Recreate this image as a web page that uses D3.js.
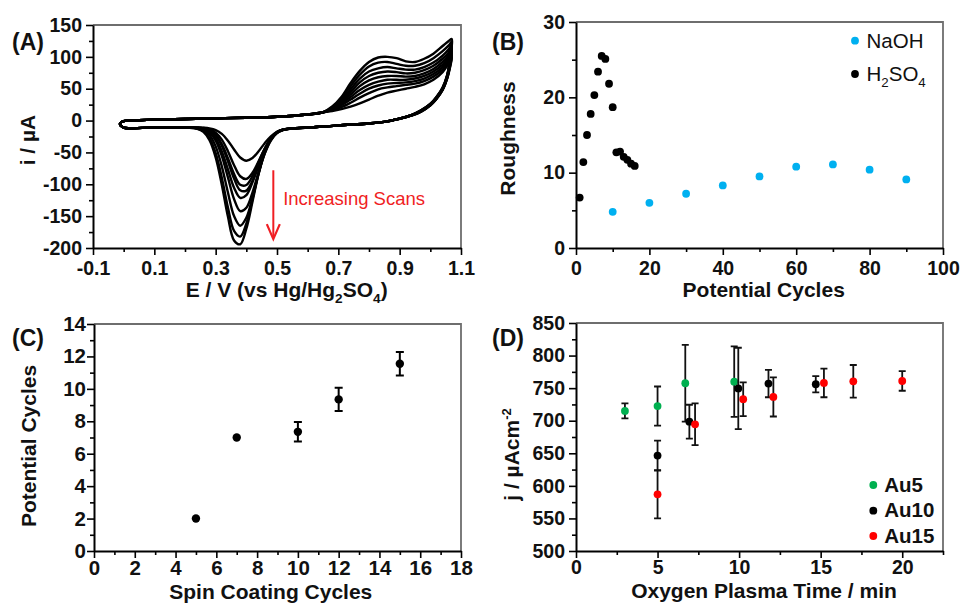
<!DOCTYPE html>
<html>
<head>
<meta charset="utf-8">
<script src="https://cdn.jsdelivr.net/npm/d3@7/dist/d3.min.js"></script>
<style>
  html, body { margin: 0; padding: 0; background: #fff; }
  svg { display: block; }
  text { font-family: "Liberation Sans", Arial, Helvetica, sans-serif; }
</style>
</head>
<body>
<svg id="fig" width="963" height="607" viewBox="0 0 963 607"></svg>
<script>
// ---------- (A) cyclic voltammograms, nine successive scans ----------
// shared low-potential part of the anodic sweep (E / V, i / µA)
const cvBaseE = [-0.012, 0.0, 0.05, 0.1, 0.2, 0.3, 0.4, 0.5, 0.6, 0.65];
const cvBaseI = [-5, -1, 0.5, 1.5, 2.5, 3.5, 4.5, 6, 9.5, 13];
// oxide-formation region of the anodic sweep, one row per scan
const cvAnodicE = [0.68, 0.71, 0.74, 0.77, 0.80, 0.83, 0.86, 0.89, 0.92, 0.95, 0.98, 1.01, 1.04, 1.06, 1.07];
const cvAnodicScans = [
  [15, 18, 22, 27, 33, 39, 44, 47, 50, 53, 57, 64, 76, 90, 98],
  [16, 21, 28, 36, 43, 49, 52, 54, 56, 58, 62, 69, 80, 93, 101],
  [17, 24, 33, 42, 50, 55, 58, 59, 60, 62, 66, 73, 84, 96, 104],
  [18, 26, 37, 48, 56, 61, 64, 64, 64, 66, 70, 77, 88, 99, 107],
  [19, 28, 41, 54, 63, 68, 70, 70, 69, 70, 74, 81, 92, 103, 111],
  [20, 30, 45, 60, 70, 75, 77, 76, 74, 75, 79, 86, 97, 107, 115],
  [20, 32, 49, 66, 77, 82, 84, 82, 80, 80, 84, 91, 102, 112, 119],
  [21, 35, 54, 72, 85, 91, 92, 89, 86, 86, 90, 98, 109, 118, 124],
  [22, 37, 59, 78, 92, 99, 100, 98, 93, 92, 97, 105, 117, 125, 128]
];
// cathodic sweep back to 0 V, one row per scan
const cvCathodicE = [1.065, 1.055, 1.04, 1.02, 1.0, 0.97, 0.94, 0.9, 0.85, 0.8, 0.7, 0.62,
  0.56, 0.52, 0.50, 0.48, 0.46, 0.44, 0.42, 0.40, 0.38, 0.36, 0.34, 0.32, 0.30, 0.28, 0.26, 0.24, 0.21, 0.17,
  0.12, 0.06, 0.02, 0.0];
const cvCathodicScans = [
  [85, 66, 48, 34, 24, 14, 8, 3, -2, -4.5, -7.5, -10.5, -12, -14.2, -17.5, -24.7, -35.5, -48.2, -58.8, -63, -57.9, -45.4, -31.5, -20.9, -14.9, -12.3, -11.3, -11, -11, -11, -11, -11.5, -12, -11],
  [87, 67, 48, 34, 24, 14, 8, 3, -2, -4.5, -7.5, -10.5, -12, -14.8, -19.3, -29, -44.5, -64, -82, -91.6, -87.4, -70, -48.1, -29.9, -18.9, -13.7, -11.7, -11.1, -11, -11, -11, -11.5, -12, -11],
  [89, 67, 49, 35, 24, 15, 8, 3, -2, -4.5, -7.5, -10.5, -12, -14.4, -18.6, -28.1, -44, -65.5, -87.2, -101.1, -100.7, -83.9, -59.2, -37, -22.4, -15, -12.2, -11.3, -11, -11, -11, -11.5, -12, -11],
  [91, 68, 49, 35, 25, 15, 8, 3, -2, -4.5, -7.5, -10.5, -12, -14.7, -19.3, -29.8, -47.3, -70.8, -94.6, -109.9, -109.4, -91, -64, -39.5, -23.5, -15.4, -12.3, -11.3, -11, -11, -11, -11.5, -12, -11],
  [93, 69, 50, 35, 25, 15, 9, 3, -2, -4.5, -7.5, -10.5, -12, -14.2, -18.3, -28, -45.3, -69.9, -96.8, -116.9, -121.3, -105.5, -76.8, -48.3, -28.2, -17.4, -13, -11.5, -11, -11, -11, -11.5, -12, -11],
  [95, 70, 50, 36, 25, 15, 9, 3, -2, -4.5, -7.5, -10.5, -12, -14.7, -19.6, -31.3, -51.8, -81, -113, -136.9, -142.2, -123.3, -89.2, -55.3, -31.4, -18.7, -13.3, -11.6, -11, -11, -11, -11.5, -12, -11],
  [97, 70, 51, 36, 26, 16, 9, 3, -2, -4.5, -7.5, -10.5, -12, -14.3, -18.9, -30.4, -51.6, -83.5, -121, -152.6, -165, -149.9, -112.9, -71.8, -40.5, -22.6, -14.7, -12, -11, -11, -11, -11.5, -12, -11],
  [99, 71, 51, 37, 26, 16, 9, 3, -2, -4.5, -7.5, -10.5, -12, -13.9, -18, -28.6, -49.2, -82.1, -123.5, -161.8, -182.1, -173.3, -136.4, -89.7, -51.2, -27.7, -16.6, -12.5, -11, -11, -11, -11.5, -12, -11],
  [100, 72, 52, 37, 26, 16, 9, 3, -2, -4.5, -7.5, -10.5, -12, -13.8, -17.8, -28.4, -49.3, -83.4, -127.4, -169.7, -194.1, -188.1, -150.6, -100.6, -57.7, -30.8, -17.8, -12.9, -11.2, -11, -11, -11.5, -12, -11]
];
const cvTicksE = [-0.1, 0.1, 0.3, 0.5, 0.7, 0.9, 1.1];
const cvMinorE = [0.0, 0.2, 0.4, 0.6, 0.8, 1.0];
const cvTicksI = [-200, -150, -100, -50, 0, 50, 100, 150];
const cvMinorI = [-175, -125, -75, -25, 25, 75, 125];
// "Increasing Scans" arrow: potential and current span
const arrowE = 0.488;
const arrowI = [-78, -186];

// ---------- (B) roughness vs potential cycles ----------
const naohCycles = [10, 20, 30, 40, 50, 60, 70, 80, 90];
const naohRoughness = [4.8, 6.0, 7.2, 8.3, 9.5, 10.8, 11.1, 10.4, 9.1];
const h2so4Cycles = [1, 2, 3, 4, 5, 6, 7, 8, 9, 10, 11, 12, 13, 14, 15, 16];
const h2so4Roughness = [6.7, 11.4, 15.0, 17.8, 20.3, 23.4, 25.5, 25.1, 21.8, 18.7, 12.7, 12.8, 12.1, 11.7, 11.2, 10.9];
const roughTicksX = [0, 20, 40, 60, 80, 100];
const roughMinorX = [10, 30, 50, 70, 90];
const roughTicksY = [0, 10, 20, 30];
const roughMinorY = [5, 15, 25];

// ---------- (C) potential cycles vs spin coating cycles ----------
const spinCycles = [5, 7, 10, 12, 15];
const spinPotCycles = [2.0, 7.0, 7.35, 9.35, 11.55];
const spinPotErr = [0, 0, 0.6, 0.72, 0.72];
const spinTicksX = [0, 2, 4, 6, 8, 10, 12, 14, 16, 18];
const spinMinorX = [1, 3, 5, 7, 9, 11, 13, 15, 17];
const spinTicksY = [0, 2, 4, 6, 8, 10, 12, 14];
const spinMinorY = [1, 3, 5, 7, 9, 11, 13];

// ---------- (D) current density vs oxygen plasma time ----------
const au5Time = [3, 5, 6.7, 9.7];
const au5J = [715, 722.5, 757.5, 760];
const au5Err = [11.5, 30, 59, 54];
const au10Time = [5, 6.95, 9.95, 11.8, 14.7];
const au10J = [646.5, 698.5, 749.5, 757, 756];
const au10Err = [23, 26, 62.5, 21, 12.5];
const au15Time = [5, 7.3, 10.25, 12.1, 15.2, 17, 20];
const au15J = [587, 694.5, 733, 736.5, 758, 760.5, 761];
const au15Err = [37, 32, 26, 30, 22, 25, 15];
const plasmaTicksX = [0, 5, 10, 15, 20];
const plasmaMinorX = [2.5, 7.5, 12.5, 17.5, 22.5];
const plasmaTicksY = [500, 550, 600, 650, 700, 750, 800, 850];
const plasmaMinorY = [525, 575, 625, 675, 725, 775, 825];

const COL_BLUE = "#00b0f0", COL_GREEN = "#00b050", COL_RED = "#ff0000", COL_ARROW = "#f01e23";

const svg = d3.select("#fig");
svg.append("rect").attr("width", 963).attr("height", 607).attr("fill", "#fff");

// builds a framed panel with outward major/minor ticks on the left and bottom
function makePanel(c) {
  const x = d3.scaleLinear().domain(c.xDomain).range([c.left, c.right]);
  const y = d3.scaleLinear().domain(c.yDomain).range([c.bottom, c.top]);
  const g = svg.append("g");
  g.append("path")
    .attr("d", `M${c.left},${c.top}H${c.right}V${c.bottom}`)
    .attr("fill", "none").attr("stroke", "#6e6e6e").attr("stroke-width", 1.8);

  const style = sel => {
    sel.attr("font-family", null).attr("font-size", null);
    sel.selectAll(".domain").attr("stroke", "#000").attr("stroke-width", 2);
    sel.selectAll(".tick line").attr("stroke", "#000").attr("stroke-width", 1.6);
    sel.selectAll(".tick text")
      .attr("fill", "#111").attr("font-weight", "bold")
      .style("font-size", c.tickFont + "px");
  };
  const noDomain = sel => sel.select(".domain").remove();

  g.append("g").attr("transform", `translate(0,${c.bottom})`)
    .call(d3.axisBottom(x).tickValues(c.xMinor).tickSize(4).tickFormat(() => ""))
    .call(style).call(noDomain);
  g.append("g").attr("transform", `translate(${c.left},0)`)
    .call(d3.axisLeft(y).tickValues(c.yMinor).tickSize(4).tickFormat(() => ""))
    .call(style).call(noDomain);
  g.append("g").attr("transform", `translate(0,${c.bottom})`)
    .call(d3.axisBottom(x).tickValues(c.xTicks).tickSize(7).tickSizeOuter(0)
      .tickPadding(c.xPad).tickFormat(c.xFmt))
    .call(style);
  g.append("g").attr("transform", `translate(${c.left},0)`)
    .call(d3.axisLeft(y).tickValues(c.yTicks).tickSize(7).tickSizeOuter(0)
      .tickPadding(c.yPad).tickFormat(c.yFmt))
    .call(style);
  return { g, x, y };
}

// text made of plain, subscript and superscript runs
function richText(g, x, y, runs, opts) {
  const t = g.append("text")
    .attr("x", x).attr("y", y)
    .attr("text-anchor", opts.anchor || "start")
    .attr("font-weight", opts.weight || "normal")
    .attr("fill", opts.fill || "#111")
    .style("font-size", opts.size + "px");
  if (opts.rotate) t.attr("transform", `rotate(-90,${x},${y})`);
  let shift = 0;
  runs.forEach(r => {
    const s = t.append("tspan").text(r.t);
    let target = 0, fs = opts.size;
    if (r.sub) { target = opts.size * 0.28; fs = opts.size * 0.65; }
    if (r.sup) { target = -opts.size * 0.4; fs = opts.size * 0.62; }
    if (target !== shift) s.attr("dy", target - shift);
    shift = target;
    s.style("font-size", fs + "px");
  });
  return t;
}

function panelLabel(x, y, s) {
  svg.append("text").attr("x", x).attr("y", y)
    .attr("font-weight", "bold").attr("fill", "#111")
    .style("font-size", "23px").text(s);
}

const fmt1 = d => d.toFixed(1);
const fmt0 = d => String(d);

// ===================== (A) =====================
{
  const p = makePanel({
    left: 93, right: 461, top: 25, bottom: 248,
    xDomain: [-0.1, 1.1], yDomain: [-200, 150],
    xTicks: cvTicksE, xMinor: cvMinorE, yTicks: cvTicksI, yMinor: cvMinorI,
    xFmt: fmt1, yFmt: fmt0, xPad: 6, yPad: 4, tickFont: 19.5
  });
  const line = d3.line().x(d => p.x(d[0])).y(d => p.y(d[1]))
    .curve(d3.curveCatmullRomClosed.alpha(0.5));
  const curves = p.g.append("g");
  cvAnodicScans.forEach((an, k) => {
    const pts = cvBaseE.map((e, i) => [e, cvBaseI[i]])
      .concat(cvAnodicE.map((e, i) => [e, an[i]]))
      .concat(cvCathodicE.map((e, i) => [e, cvCathodicScans[k][i]]));
    curves.append("path").attr("d", line(pts))
      .attr("fill", "none").attr("stroke", "#000")
      .attr("stroke-width", 2.4).attr("stroke-linejoin", "round");
  });
  // arrow
  const ax = p.x(arrowE), ay0 = p.y(arrowI[0]), ay1 = p.y(arrowI[1]);
  p.g.append("line").attr("x1", ax).attr("x2", ax).attr("y1", ay0).attr("y2", ay1 - 1)
    .attr("stroke", COL_ARROW).attr("stroke-width", 2);
  p.g.append("path").attr("d", `M${ax - 6.5},${ay1 - 15}L${ax},${ay1}L${ax + 6.5},${ay1 - 15}`)
    .attr("fill", "none").attr("stroke", COL_ARROW).attr("stroke-width", 2.2)
    .attr("stroke-linejoin", "miter");
  p.g.append("text").attr("x", p.x(0.52)).attr("y", p.y(-133))
    .attr("fill", COL_ARROW).style("font-size", "18.5px").text("Increasing Scans");

  richText(svg, 286.7, 297, [
    { t: "E / V (vs Hg/Hg" }, { t: "2", sub: true }, { t: "SO" }, { t: "4", sub: true }, { t: ")" }
  ], { size: 21, weight: "bold", anchor: "middle" });
  richText(svg, 35, 140, [{ t: "i / µA" }], { size: 21, weight: "bold", anchor: "middle", rotate: true });
  panelLabel(12, 50, "(A)");
}

// ===================== (B) =====================
{
  const p = makePanel({
    left: 576, right: 943, top: 22, bottom: 248,
    xDomain: [0, 100], yDomain: [0, 30],
    xTicks: roughTicksX, xMinor: roughMinorX, yTicks: roughTicksY, yMinor: roughMinorY,
    xFmt: fmt0, yFmt: fmt0, xPad: 6, yPad: 4, tickFont: 19.5
  });
  p.g.selectAll("circle.naoh").data(naohCycles).join("circle")
    .attr("cx", d => p.x(d)).attr("cy", (d, i) => p.y(naohRoughness[i]))
    .attr("r", 3.9).attr("fill", COL_BLUE);
  p.g.selectAll("circle.h2so4").data(h2so4Cycles).join("circle")
    .attr("cx", d => p.x(d)).attr("cy", (d, i) => p.y(h2so4Roughness[i]))
    .attr("r", 3.9).attr("fill", "#000");

  svg.append("circle").attr("cx", 855).attr("cy", 40.7).attr("r", 3.9).attr("fill", COL_BLUE);
  svg.append("circle").attr("cx", 855).attr("cy", 74).attr("r", 3.9).attr("fill", "#000");
  richText(svg, 866.5, 47.5, [{ t: "NaOH" }], { size: 20.5 });
  richText(svg, 866.5, 81, [{ t: "H" }, { t: "2", sub: true }, { t: "SO" }, { t: "4", sub: true }], { size: 20.5 });

  richText(svg, 763.7, 297, [{ t: "Potential Cycles" }], { size: 21, weight: "bold", anchor: "middle" });
  richText(svg, 515, 138.5, [{ t: "Roughness" }], { size: 21, weight: "bold", anchor: "middle", rotate: true });
  panelLabel(492, 50, "(B)");
}

// ===================== (C) =====================
{
  const p = makePanel({
    left: 94, right: 461, top: 324, bottom: 551,
    xDomain: [0, 18], yDomain: [0, 14],
    xTicks: spinTicksX, xMinor: spinMinorX, yTicks: spinTicksY, yMinor: spinMinorY,
    xFmt: fmt0, yFmt: fmt0, xPad: 2, yPad: 1, tickFont: 20.5
  });
  spinCycles.forEach((s, i) => {
    const e = spinPotErr[i];
    if (e > 0) {
      const cx = p.x(s), ya = p.y(spinPotCycles[i] + e), yb = p.y(spinPotCycles[i] - e);
      p.g.append("path")
        .attr("d", `M${cx},${ya}V${yb}M${cx - 4},${ya}H${cx + 4}M${cx - 4},${yb}H${cx + 4}`)
        .attr("stroke", "#000").attr("stroke-width", 2).attr("fill", "none");
    }
  });
  p.g.selectAll("circle.spin").data(spinCycles).join("circle")
    .attr("cx", d => p.x(d)).attr("cy", (d, i) => p.y(spinPotCycles[i]))
    .attr("r", 4.2).attr("fill", "#000");

  richText(svg, 270.8, 599, [{ t: "Spin Coating Cycles" }], { size: 21, weight: "bold", anchor: "middle" });
  richText(svg, 35.5, 446, [{ t: "Potential Cycles" }], { size: 21, weight: "bold", anchor: "middle", rotate: true });
  panelLabel(12, 346, "(C)");
}

// ===================== (D) =====================
{
  const p = makePanel({
    left: 576, right: 943, top: 323, bottom: 551,
    xDomain: [0, 22.5], yDomain: [500, 850],
    xTicks: plasmaTicksX, xMinor: plasmaMinorX, yTicks: plasmaTicksY, yMinor: plasmaMinorY,
    xFmt: fmt0, yFmt: fmt0, xPad: 2.5, yPad: 4, tickFont: 19.5
  });
  const series = [
    { t: au5Time, v: au5J, e: au5Err, c: COL_GREEN },
    { t: au10Time, v: au10J, e: au10Err, c: "#000" },
    { t: au15Time, v: au15J, e: au15Err, c: COL_RED }
  ];
  series.forEach(s => {
    s.t.forEach((tm, i) => {
      const cx = p.x(tm), ya = p.y(s.v[i] + s.e[i]), yb = p.y(s.v[i] - s.e[i]);
      p.g.append("path")
        .attr("d", `M${cx},${ya}V${yb}M${cx - 3.5},${ya}H${cx + 3.5}M${cx - 3.5},${yb}H${cx + 3.5}`)
        .attr("stroke", "#111").attr("stroke-width", 1.8).attr("fill", "none");
    });
    p.g.append("g").selectAll("circle").data(s.t).join("circle")
      .attr("cx", d => p.x(d)).attr("cy", (d, i) => p.y(s.v[i]))
      .attr("r", 3.9).attr("fill", s.c);
  });

  const leg = [["Au5", COL_GREEN, 485, 491.7], ["Au10", "#000", 510.7, 517.3], ["Au15", COL_RED, 536, 542.7]];
  leg.forEach(([name, col, cy, by]) => {
    svg.append("circle").attr("cx", 873.3).attr("cy", cy).attr("r", 3.9).attr("fill", col);
    richText(svg, 884.3, by, [{ t: name }], { size: 20.5, weight: "bold" });
  });

  richText(svg, 764, 598, [{ t: "Oxygen Plasma Time / min" }], { size: 21, weight: "bold", anchor: "middle" });
  richText(svg, 519, 454.5, [{ t: "j / µAcm" }, { t: "-2", sup: true }], { size: 21, weight: "bold", anchor: "middle", rotate: true });
  panelLabel(492, 346, "(D)");
}
</script>
</body>
</html>
